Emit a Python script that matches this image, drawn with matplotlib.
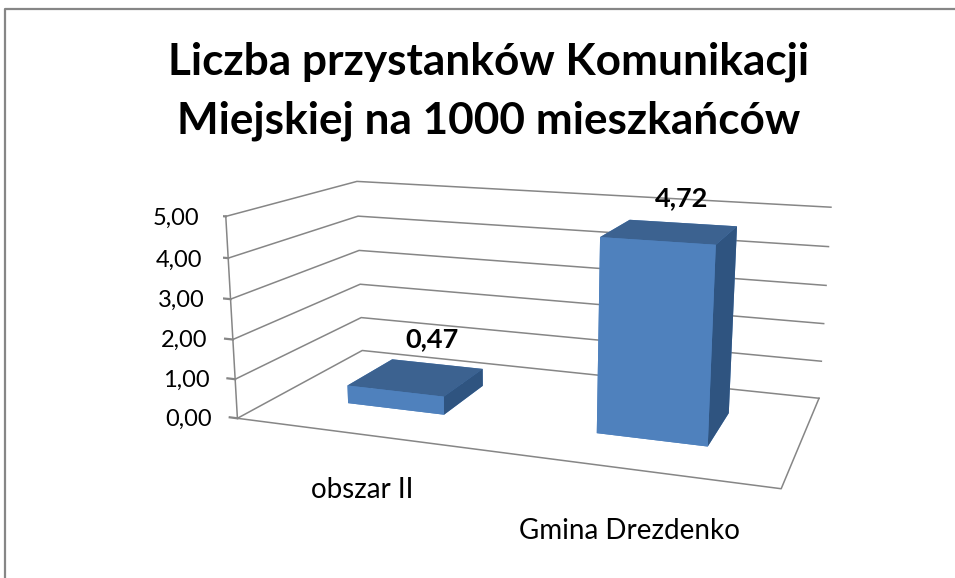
import matplotlib
matplotlib.use("Agg")
import matplotlib.pyplot as plt
from matplotlib.lines import Line2D

title_lines = ['Liczba przystanków Komunikacji', 'Miejskiej na 1000 mieszkańców']
categories = ['obszar II', 'Gmina Drezdenko']
values = [0.47, 4.72]
value_labels = ['0,47', '4,72']
ticks = [0, 1, 2, 3, 4, 5]
tick_labels = ['0,00', '1,00', '2,00', '3,00', '4,00', '5,00']

W, H = 955, 578
GRID = '#868686'
FRONT, TOP, SIDE = '#4F81BD', '#3C6290', '#2F5480'
bar_w, d0, d1 = 0.403, 0.304, 0.694

plt.rcParams['font.family'] = ['Lato', 'DejaVu Sans']

def px(x, y):
    return x / W, 1 - y / H

fig = plt.figure(figsize=(W / 100, H / 100), dpi=100)
ax = fig.add_axes([222.7 / W, -48.0 / H, 611.9 / W, 611.9 / H], projection='3d', computed_zorder=False)
ax.set_xlim(0, 2)
ax.set_ylim(0, 1)
ax.set_zlim(0, 5)
ax.view_init(13.806, -70.566, roll=-0.244)
ax.set_proj_type('persp', focal_length=0.367)
ax.set_box_aspect((1, 0.497, 0.378))
ax.set_axis_off()

# walls and floor
for t, lab in zip(ticks, tick_labels):
    ax.plot([0, 0, 2], [0, 1, 1], [t, t, t], color=GRID, lw=1.1, zorder=1)
    ax.plot([-0.033, 0], [0, 0], [t, t], color=GRID, lw=1.6, zorder=1)
    ax.text(-0.11, 0, t - 0.1, lab, fontsize=17, ha='right', va='center', color='black')
ax.plot([0, 0], [0, 0], [0, 5], color=GRID, lw=1.1, zorder=1)
ax.plot([0, 2, 2], [0, 0, 1], [0, 0, 0], color=GRID, lw=1.1, zorder=1)

# faces: bottom, top, front, back, left, right
for i, v in enumerate(values):
    ax.bar3d(i + 0.5 - bar_w / 2, d0, 0, bar_w, d1 - d0, v,
             color=[FRONT, TOP, FRONT, FRONT, FRONT, SIDE], shade=False, zorder=3)

label_pos = [(432, 339), (682, 198)]
for (x, y), lab in zip(label_pos, value_labels):
    fig.text(*px(x, y), lab, fontsize=19.5, fontweight='bold', ha='center', va='center', color='black')

cat_pos = [(362, 490), (629, 531)]
for (x, y), lab in zip(cat_pos, categories):
    fig.text(*px(x, y), lab, fontsize=20, ha='center', va='center', color='black')

for y, line in zip([62, 121], title_lines):
    fig.text(*px(489, y), line, fontsize=31.8, fontweight='bold', ha='center', va='center', color='black')

# chart border, cut off at the right and bottom
fig.add_artist(Line2D([5 / W, 5 / W, 1], [0, 1 - 9 / H, 1 - 9 / H], color=GRID, lw=1.6))

fig.savefig('out.png', dpi=100)
